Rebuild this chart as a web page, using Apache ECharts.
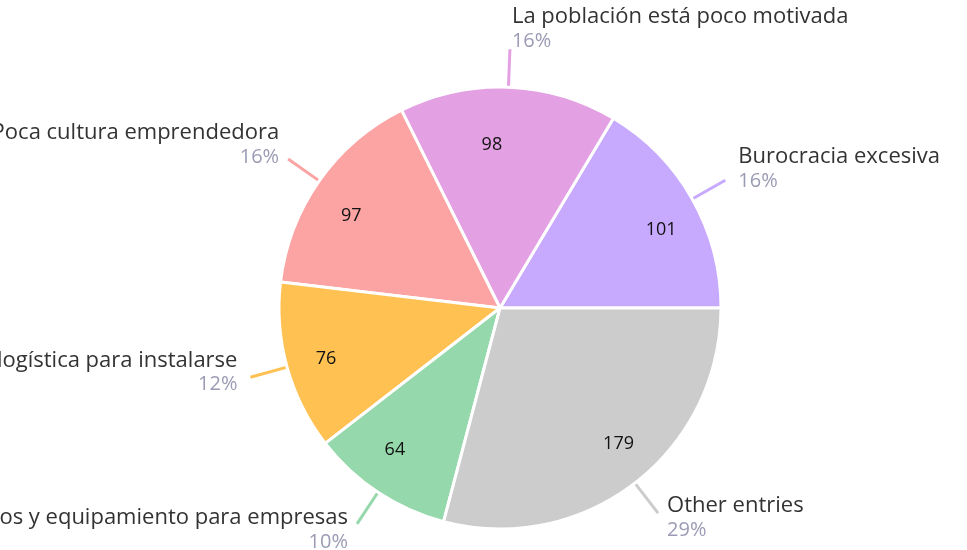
<!DOCTYPE html>
<html><head><meta charset="utf-8">
<script src="https://cdn.jsdelivr.net/npm/echarts@6/dist/echarts.min.js"></script>
<style>html,body{margin:0;padding:0;background:#fff}#c{width:967px;height:550px}</style>
</head><body><div id="c"></div>
<script>
var categories = ["Burocracia excesiva","La población está poco motivada","Poca cultura emprendedora","Falta de infraestructura logística para instalarse","Falta de espacios y equipamiento para empresas","Other entries"];
var values = [101, 98, 97, 76, 64, 179];
var colors = ["#c7a9fd","#e3a1e4","#fca3a3","#ffc152","#95d8ab","#cccccc"];
// label nudges (px): outer vertical (positive = up), outer gap to line, inner [dx, dy]
var outerNudge = [11, 20, 14, 5, -6, -5];
var outerGap = [13, 2, 9, 13, 9, 9];
var innerNudge = [[5,10],[-15,16],[-2,11],[-1,3],[-6,-8],[9,-6]];

var font = "Open Sans";
function pad(dx, dy){
  return [dy>0?2*dy:0, dx<0?-2*dx:0, dy<0?-2*dy:0, dx>0?2*dx:0];
}
var outerData = categories.map(function(n,i){
  return {name:n, value:values[i], itemStyle:{color:colors[i]},
    labelLine:{lineStyle:{color:colors[i]}},
    label:{padding: pad(0, -outerNudge[i]), distanceToLabelLine: outerGap[i]}};
});
var innerData = categories.map(function(n,i){
  return {name:n, value:values[i], label:{offset: innerNudge[i]}};
});

var chart = echarts.init(document.getElementById('c'));
chart.setOption({
  animation:false,
  series:[{
    type:'pie', center:[500,308], radius:[0,221], startAngle:0, clockwise:false,
    avoidLabelOverlap:false,
    itemStyle:{borderColor:'#fff', borderWidth:3},
    label:{show:true, position:'outer', alignTo:'none', overflow:'none', distanceToLabelLine:9,
      formatter:function(p){return '{n|'+p.name+'}\n{p|'+Math.round(p.percent)+'%}';},
      rich:{n:{fontFamily:font,fontSize:22,color:'#333333',lineHeight:24},
            p:{fontFamily:font,fontSize:20,color:'#9b9bb5',lineHeight:24}}},
    labelLine:{show:true, length:38, length2:0, smooth:false, lineStyle:{width:3}},
    emphasis:{disabled:true},
    data:outerData
  },{
    type:'pie', center:[500,308], radius:[132,221], startAngle:0, clockwise:false, silent:true,
    itemStyle:{color:'rgba(0,0,0,0)', borderWidth:0},
    label:{show:true, position:'inside', formatter:'{c}', fontFamily:font, fontSize:18, color:'#111'},
    labelLine:{show:false},
    emphasis:{disabled:true},
    data:innerData
  }]
});
</script></body></html>
